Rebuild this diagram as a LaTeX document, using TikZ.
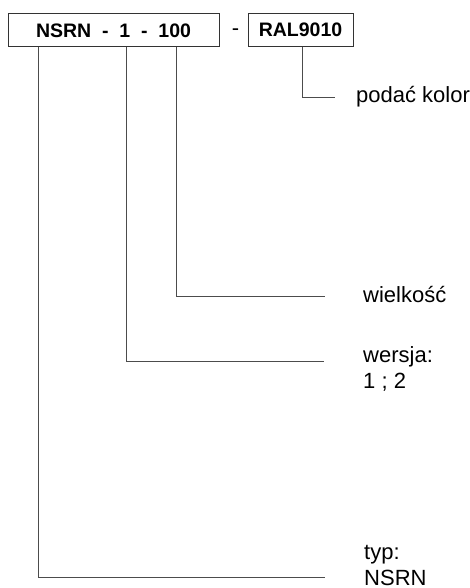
\documentclass[tikz,border=0pt]{standalone}
\usepackage{fontspec}
\setmainfont{Liberation Sans}
\begin{document}
\begin{tikzpicture}[x=1pt,y=-1pt,
  codebox/.style={draw=black!80, line width=1pt, inner sep=0pt, font=\fontsize{19.5}{22}\selectfont\bfseries},
  conn/.style={draw=black!70, line width=1pt},
  lbl/.style={inner sep=0pt, anchor=base west, font=\fontsize{22}{26}\selectfont, align=left}]
\useasboundingbox (0,0) rectangle (470,588);
\node[codebox, minimum width=211pt, minimum height=33pt] (code) at (113.5,30.5) {\raisebox{-3pt}{NSRN\ \ -\ \ 1\ \ -\ \ 100}};
\node[codebox, minimum width=105pt, minimum height=33pt] (ral) at (300.5,30) {\raisebox{-2.5pt}{RAL9010}};
\node[inner sep=0pt, anchor=base, font=\fontsize{22}{26}\selectfont] (dash) at (235.5,36) {-};
% connector end points
\coordinate (xt) at (38,0);
\coordinate (xv) at (126,0);
\coordinate (xs) at (176,0);
\coordinate (xr) at (302,0);
\coordinate (ec) at (335,98);
\coordinate (es) at (325,296);
\coordinate (ev) at (324,361);
\coordinate (et) at (325,577);
\node[lbl] (lc) at (356,103) {podać kolor};
\node[lbl] (ls) at (363,302) {wielkość};
\node[lbl] (lv) at (363,388) {wersja:\\1 ; 2};
\node[lbl] (lt) at (364,585) {typ:\\NSRN};
\draw[conn] (ral.south -| xr) |- (ec);
\draw[conn] (code.south -| xs) |- (es);
\draw[conn] (code.south -| xv) |- (ev);
\draw[conn] (code.south -| xt) |- (et);
\end{tikzpicture}
\end{document}
